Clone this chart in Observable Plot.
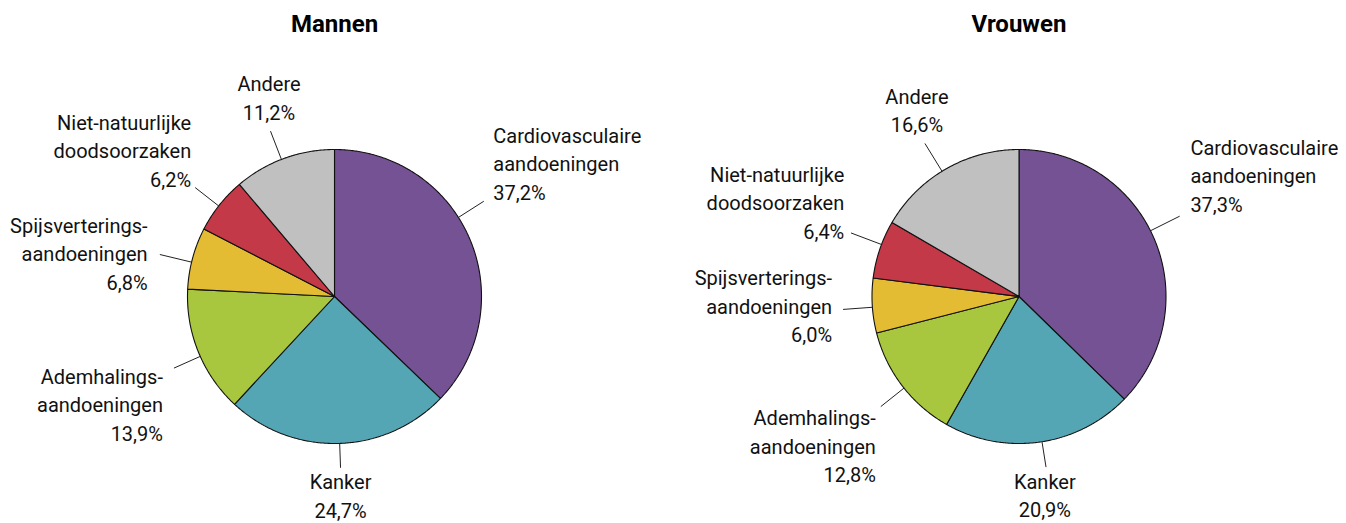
<!DOCTYPE html>
<html><head><meta charset="utf-8">
<script src="https://cdn.jsdelivr.net/npm/d3@7"></script>
<script src="https://cdn.jsdelivr.net/npm/@observablehq/plot@0.6"></script>
<style>html,body{margin:0;padding:0;background:#fff;}</style>
</head><body><div id="chart"></div>
<script>
// ---------- data ----------
const categories = ["Cardiovasculaire aandoeningen", "Kanker", "Ademhalingsaandoeningen", "Spijsverteringsaandoeningen", "Niet-natuurlijke doodsoorzaken", "Andere"];
const labelTexts = ["Cardiovasculaire\naandoeningen", "Kanker", "Ademhalings-\naandoeningen", "Spijsverterings-\naandoeningen", "Niet-natuurlijke\ndoodsoorzaken", "Andere"];
const groups = ["Mannen", "Vrouwen"];
const mannen = [37.2, 24.7, 13.9, 6.8, 6.2, 11.2];
const vrouwen = [37.3, 20.9, 12.8, 6.0, 6.4, 16.6];
const colors = ["#755293", "#54a6b5", "#a8c63e", "#e4bc34", "#c43947", "#c0c0c0"];

// ---------- layout ----------
const W = 1346, H = 523, R = 147;
const centersPx = [{x: 334, y: 296}, {x: 1018.5, y: 296}];
// per pie, per category: [angle nudge (deg), leader outer radius (×R), text anchor, dx px, dy px (to last baseline)]
const labelLayout = [
  [[-9.5, 1.205, "start", 9.5, -1.5], [-0.4, 1.166, "middle", 0, 50], [-1.9, 1.196, "end", -11, 72.7],
   [-1.6, 1.222, "end", -12.3, 35], [-0.5, 1.203, "end", -4, -0.7], [-1.0, 1.206, "middle", -1.5, -11.4]],
  [[-3.7, 1.222, "start", 10.7, -4.3], [-0.9, 1.175, "middle", -1.2, 50], [-1.1, 1.202, "end", -5, 75.3],
   [-0.6, 1.2, "end", -11, 32.7], [2.0, 1.222, "end", -6.7, 5.7], [-1.7, 1.222, "middle", -8, -11]]
];

const series = [mannen, vrouwen];
const centers = centersPx.map(c => ({x: c.x / R, y: (H - c.y) / R}));
const rad = deg => deg * Math.PI / 180;
const pt = (c, deg, r) => ({x: c.x + r * Math.sin(rad(deg)), y: c.y + r * Math.cos(rad(deg))});

const slicePts = [];
const leaders = [];
const labels = [];
series.forEach((vals, gi) => {
  const c = centers[gi];
  const total = d3.sum(vals);
  let acc = 0;
  vals.forEach((v, ci) => {
    const a0 = acc / total * 360, a1 = (acc + v) / total * 360;
    acc += v;
    const key = groups[gi] + "|" + categories[ci];
    const poly = [c];
    const n = Math.max(2, Math.ceil((a1 - a0) / 0.5));
    for (let k = 0; k <= n; k++) poly.push(pt(c, a0 + (a1 - a0) * k / n, 1));
    poly.push(c);
    poly.forEach(p => slicePts.push({key, cat: categories[ci], x: p.x, y: p.y}));
    const [nudge, rOut, anchor, dx, dy] = labelLayout[gi][ci];
    const mid = (a0 + a1) / 2 + nudge;
    const p1 = pt(c, mid, 1), p2 = pt(c, mid, rOut);
    leaders.push({x1: p1.x, y1: p1.y, x2: p2.x, y2: p2.y});
    labels.push({
      anchor,
      x: p2.x + dx / R,
      y: p2.y - dy / R,
      text: labelTexts[ci] + "\n" + v.toFixed(1).replace(".", ",") + "%"
    });
  });
});

const textOpts = a => ({x: "x", y: "y", text: "text", textAnchor: a, lineAnchor: "bottom", lineHeight: 1.42, fontSize: 20, fill: "#111"});

const chart = Plot.plot({
  width: W, height: H,
  margin: 0,
  x: {domain: [0, W / R], axis: null},
  y: {domain: [0, H / R], axis: null},
  color: {domain: categories, range: colors},
  style: {fontFamily: "Roboto, 'Liberation Sans', sans-serif", background: "#fff", color: "#111"},
  marks: [
    Plot.line(slicePts, {x: "x", y: "y", z: "key", fill: "cat", stroke: "#111", strokeWidth: 1.1, strokeLinejoin: "miter", curve: "linear"}),
    Plot.link(leaders, {x1: "x1", y1: "y1", x2: "x2", y2: "y2", stroke: "#222", strokeWidth: 1}),
    Plot.text(labels.filter(d => d.anchor === "start"), textOpts("start")),
    Plot.text(labels.filter(d => d.anchor === "middle"), textOpts("middle")),
    Plot.text(labels.filter(d => d.anchor === "end"), textOpts("end")),
    Plot.text(groups, {x: (d, i) => centers[i].x, frameAnchor: "top", dy: 31, lineAnchor: "bottom", text: d => d, fontWeight: "bold", fontSize: 24, fill: "#000"})
  ]
});
document.getElementById("chart").appendChild(chart);
</script>
</body></html>
